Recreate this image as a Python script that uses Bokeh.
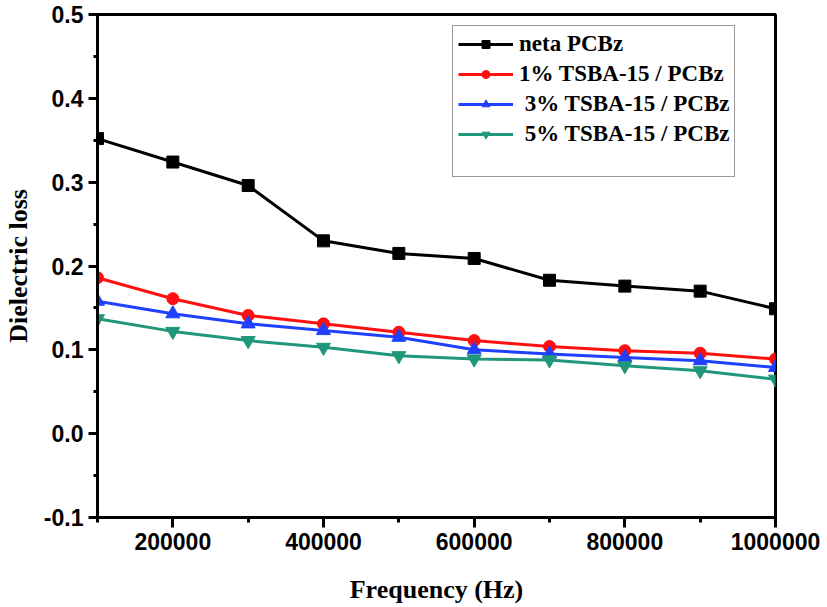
from bokeh.plotting import figure
from bokeh.models import FixedTicker, PrintfTickFormatter, Legend, LegendItem, Range1d
from bokeh.embed import file_html
from bokeh.resources import INLINE

freq = [100000, 200000, 300000, 400000, 500000, 600000, 700000, 800000, 900000, 1000000]
neat_pcbz = [0.352, 0.324, 0.296, 0.230, 0.215, 0.209, 0.183, 0.176, 0.170, 0.149]
tsba_1 = [0.186, 0.161, 0.141, 0.131, 0.121, 0.111, 0.104, 0.099, 0.096, 0.089]
tsba_3 = [0.158, 0.143, 0.131, 0.123, 0.115, 0.100, 0.095, 0.091, 0.087, 0.079]
tsba_5 = [0.137, 0.122, 0.111, 0.103, 0.093, 0.089, 0.088, 0.081, 0.075, 0.065]

labels = ["neta PCBz", "1% TSBA-15 / PCBz", " 3% TSBA-15 / PCBz", " 5% TSBA-15 / PCBz"]
colors = ["#000000", "#ff1010", "#2040ff", "#20967a"]

x_major = [200000, 400000, 600000, 800000, 1000000]
x_minor = [100000, 200000, 300000, 400000, 500000, 600000, 700000, 800000, 900000, 1000000]
y_major = [-0.1, 0.0, 0.1, 0.2, 0.3, 0.4, 0.5]
y_minor = [-0.1, -0.05, 0.0, 0.05, 0.1, 0.15, 0.2, 0.25, 0.3, 0.35, 0.4, 0.45, 0.5]

p = figure(width=827, height=607, output_backend="svg", toolbar_location=None,
           x_range=Range1d(100000, 1000000), y_range=Range1d(-0.1, 0.5),
           min_border_left=96, min_border_right=52, min_border_top=14, min_border_bottom=90)
p.grid.visible = False
p.outline_line_color = "black"
p.outline_line_width = 3
p.background_fill_color = "white"
p.border_fill_color = "white"

for ax in (p.xaxis[0], p.yaxis[0]):
    ax.axis_line_width = 3
    ax.major_tick_line_width = 3
    ax.minor_tick_line_width = 3
    ax.major_tick_in = 0
    ax.minor_tick_in = 0
    ax.major_label_text_font = "Liberation Sans"
    ax.major_label_text_font_style = "bold"
    ax.major_label_text_font_size = "23px"
    ax.major_label_text_color = "black"
    ax.axis_label_text_font = "Liberation Serif"
    ax.axis_label_text_font_style = "bold"
    ax.axis_label_text_font_size = "26px"
    ax.axis_label_text_color = "black"

p.xaxis.ticker = FixedTicker(ticks=x_major, minor_ticks=x_minor)
p.yaxis.ticker = FixedTicker(ticks=y_major, minor_ticks=y_minor)
p.xaxis.formatter = PrintfTickFormatter(format="%d")
p.yaxis.formatter = PrintfTickFormatter(format="%.1f")
p.xaxis.major_tick_out = 10
p.xaxis.minor_tick_out = 5
p.yaxis.major_tick_out = 9
p.yaxis.minor_tick_out = 4
p.xaxis.major_label_standoff = 5
p.yaxis.major_label_standoff = 5
p.xaxis.axis_label = "Frequency (Hz)"
p.yaxis.axis_label = "Dielectric loss"
p.xaxis.axis_label_standoff = 22
p.yaxis.axis_label_standoff = 8

series = [neat_pcbz, tsba_1, tsba_3, tsba_5]
markers = ["square", "circle", "triangle", "inverted_triangle"]
sizes = [12, 12, 14, 14]
items = []
for ys, col, mk, sz, lab in zip(series, colors, markers, sizes, labels):
    ln = p.line(freq, ys, line_color=col, line_width=3)
    sc = p.scatter(freq, ys, marker=mk, size=sz, fill_color=col, line_color=col)
    items.append(LegendItem(label=lab, renderers=[ln, sc]))
dummy = p.line([], [], line_alpha=0)
items.append(LegendItem(label=" ", renderers=[dummy]))

legend = Legend(items=items, location=(355, 340), margin=0, padding=5,
                spacing=4, glyph_width=55, glyph_height=20, label_height=20,
                label_standoff=6, label_text_font="Liberation Serif",
                label_text_font_style="bold", label_text_font_size="23px",
                label_text_color="black", border_line_color="#333333",
                border_line_width=1.5, background_fill_alpha=1)
p.add_layout(legend, "center")

open("out.html", "w").write(file_html(p, INLINE))
